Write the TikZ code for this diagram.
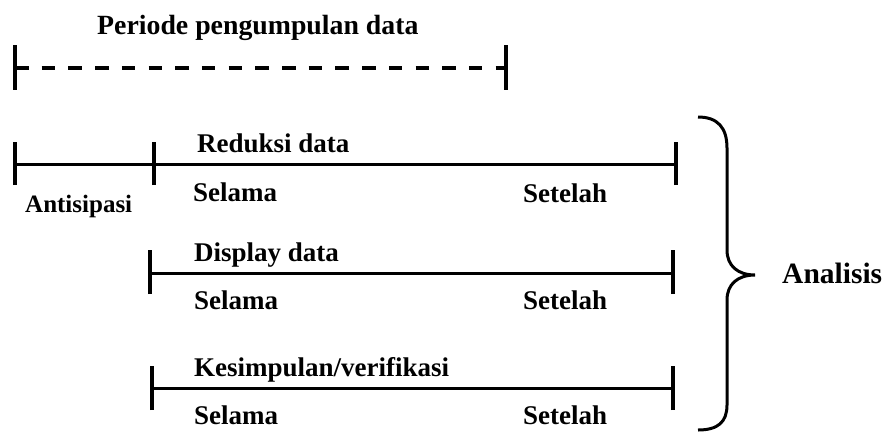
\documentclass[tikz,border=0pt]{standalone}
\usepackage{fontspec}
\setmainfont{Liberation Serif}
\begin{document}
\begin{tikzpicture}[x=1pt,y=-1pt,
  lbl/.style={inner sep=0pt,anchor=base west,font=\bfseries\fontsize{27}{30}\selectfont},
  bar/.style={line width=3pt},
  tick/.style={line width=3.5pt},
  dashbar/.style={line width=3.2pt,dash pattern=on 13.5pt off 13.2pt}]
\useasboundingbox (0,0) rectangle (888,432);
% title
\node[lbl,font=\bfseries\fontsize{27.8}{30}\selectfont] (title) at (97,34) {Periode pengumpulan data};
% dashed period
\coordinate (d0) at (15,68); \coordinate (d1) at (506,68);
\coordinate (d0t) at (15,45); \coordinate (d0b) at (15,90);
\coordinate (d1t) at (506,45); \coordinate (d1b) at (506,90);
\draw[dashbar] (d0) -- (d1);
\draw[tick] (d0t) -- (d0b);
\draw[tick] (d1t) -- (d1b);
% row 1
\coordinate (a0) at (15,164); \coordinate (a1) at (154,164); \coordinate (a2) at (676,164);
\draw[bar] (a0) -- (a1) -- (a2);
\foreach \c in {a0,a1,a2}{\draw[tick] ([yshift=-21pt]\c) -- ([yshift=22pt]\c);}
\node[lbl] (red) at (197,152) {Reduksi data};
\node[lbl,font=\bfseries\fontsize{25}{30}\selectfont] (ant) at (25,212) {Antisipasi};
\node[lbl] (s1) at (193,201) {Selama};
\node[lbl] (t1) at (523,202) {Setelah};
% row 2
\coordinate (b0) at (150,273); \coordinate (b1) at (673,273);
\draw[bar] (b0) -- (b1);
\foreach \c in {b0,b1}{\draw[tick] ([yshift=-21pt]\c) -- ([yshift=23pt]\c);}
\node[lbl] (disp) at (194,261) {Display data};
\node[lbl] (s2) at (194,309) {Selama};
\node[lbl] (t2) at (523,309) {Setelah};
% row 3
\coordinate (c0) at (152,388); \coordinate (c1) at (673,388);
\draw[bar] (c0) -- (c1);
\foreach \c in {c0,c1}{\draw[tick] ([yshift=-22pt]\c) -- ([yshift=22pt]\c);}
\node[lbl] (kes) at (194,376) {Kesimpulan/verifikasi};
\node[lbl] (s3) at (194,424) {Selama};
\node[lbl] (t3) at (523,424) {Setelah};
% brace
\coordinate (bt) at (698,117); \coordinate (bc) at (755,275); \coordinate (bb) at (698,430);
\draw[line width=3pt] (bt) .. controls (718,117) and (727,128) .. (727,148)
  -- (727,250) .. controls (727,266) and (738,275) .. (bc)
  .. controls (738,275) and (727,284) .. (727,300)
  -- (727,405) .. controls (727,422) and (718,430) .. (bb);
\node[lbl,font=\bfseries\fontsize{29.5}{32}\selectfont] (ana) at (782,283) {Analisis};
\end{tikzpicture}
\end{document}
